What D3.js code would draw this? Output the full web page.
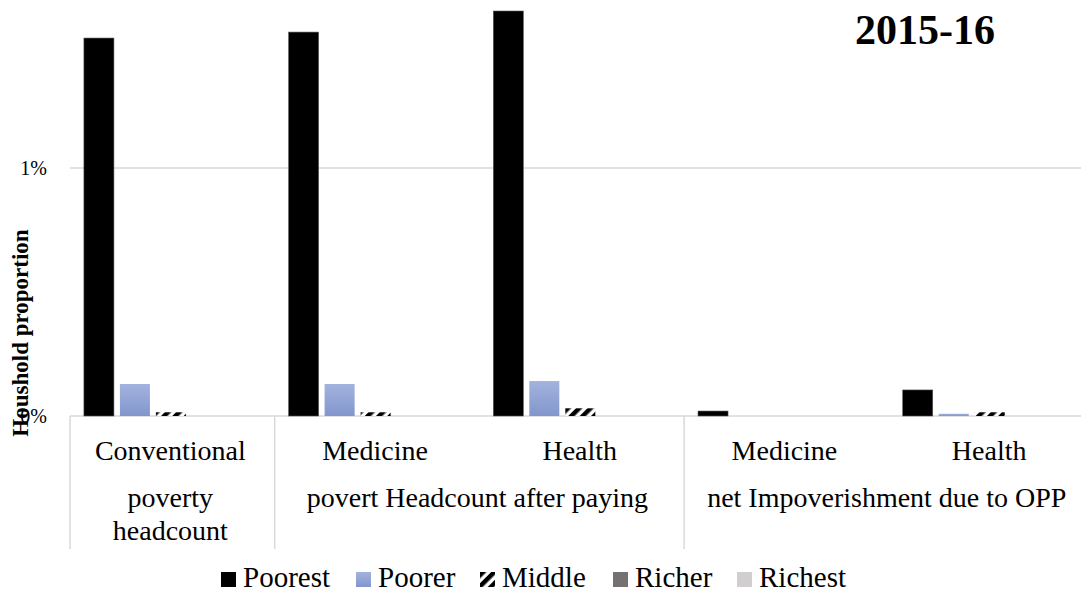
<!DOCTYPE html>
<html>
<head>
<meta charset="utf-8">
<script src="https://cdn.jsdelivr.net/npm/d3@7"></script>
<style>
  html, body { margin: 0; padding: 0; background: #fff; }
  svg { display: block; }
</style>
</head>
<body>
<svg id="chart" width="1081" height="594"></svg>
<script>
// Poverty headcount and impoverishment by wealth quintile, 2015-16 (values in %)
const categories = ["Conventional", "Medicine", "Health", "Medicine2", "Health2"];
const categoryLabels = ["Conventional", "Medicine", "Health", "Medicine", "Health"];
const series = ["Poorest", "Poorer", "Middle", "Richer", "Richest"];

const poorest = [1.524, 1.548, 1.633, 0.020, 0.105];
const poorer  = [0.129, 0.129, 0.141, 0.000, 0.009];
const middle  = [0.015, 0.015, 0.031, 0.000, 0.015];
const richer  = [0, 0, 0, 0, 0];
const richest = [0, 0, 0, 0, 0];

const gridTicks = [0, 1, 2];
const tickLabels = [0, 1];

// Group captions under the category labels
const groups = [
  { from: 0, to: 0, lines: ["poverty", "headcount"] },
  { from: 1, to: 2, lines: ["povert Headcount after paying"] },
  { from: 3, to: 4, lines: ["net Impoverishment due to OPP"] }
];

const valuesBySeries = [poorest, poorer, middle, richer, richest];
const FONT = "'Liberation Serif', 'Times New Roman', serif";

const svg = d3.select("#chart").attr("font-family", FONT);
const defs = svg.append("defs");

// Light blue vertical gradient for "Poorer"
const grad = defs.append("linearGradient").attr("id", "poorerGrad")
  .attr("x1", 0).attr("y1", 0).attr("x2", 0).attr("y2", 1);
grad.append("stop").attr("offset", "0%").attr("stop-color", "#a3b3de");
grad.append("stop").attr("offset", "100%").attr("stop-color", "#8296cd");

// Wide upward diagonal stripes for "Middle"
const pat = defs.append("pattern").attr("id", "middlePat")
  .attr("patternUnits", "userSpaceOnUse").attr("width", 8).attr("height", 8)
  .attr("patternTransform", "rotate(45)");
pat.append("rect").attr("width", 8).attr("height", 8).attr("fill", "#fff");
pat.append("rect").attr("x", 0).attr("width", 4.5).attr("height", 8).attr("fill", "#000");

const fills = ["#000000", "url(#poorerGrad)", "url(#middlePat)", "#767171", "#d0cece"];

const plotLeft = 70, baseY = 416, onePct = 248;
const catStep = 204.7;

const x = d3.scaleBand().domain(categories)
  .range([plotLeft, plotLeft + catStep * categories.length]).padding(0);
const xs = d3.scaleBand().domain(series)
  .range([x.bandwidth() * 0.068, x.bandwidth() * 0.068 + 174])
  .paddingInner(1 / 6).paddingOuter(0);
const y = d3.scaleLinear().domain([0, 2]).range([baseY, baseY - 2 * onePct]);

// Gridlines
svg.append("g").selectAll("line").data(gridTicks).join("line")
  .attr("x1", plotLeft).attr("x2", 1081)
  .attr("y1", d => y(d)).attr("y2", d => y(d))
  .attr("stroke", "#d9d9d9").attr("stroke-width", 1.5);

// Y tick labels
svg.append("g").selectAll("text").data(tickLabels).join("text")
  .attr("x", 47).attr("y", d => y(d) + 7)
  .attr("text-anchor", "end").attr("font-size", 20)
  .text(d => d3.format(".0f")(d) + "%");

// Bars
const barData = [];
valuesBySeries.forEach((vals, si) => {
  vals.forEach((v, ci) => barData.push({ s: series[si], si, c: categories[ci], v }));
});
svg.append("g").selectAll("rect").data(barData.filter(d => d.v > 0)).join("rect")
  .attr("x", d => x(d.c) + xs(d.s))
  .attr("width", xs.bandwidth())
  .attr("y", d => y(d.v))
  .attr("height", d => y(0) - y(d.v))
  .attr("fill", d => fills[d.si])
  .attr("stroke", d => d.si === 0 ? "#555" : "none")
  .attr("stroke-width", d => d.si === 0 ? 0.6 : 0);

// Category axis separators
const axisBottom = 549;
const sepX = [plotLeft, x(categories[1]), x(categories[3])];
svg.append("g").selectAll("line").data(sepX).join("line")
  .attr("x1", d => d).attr("x2", d => d)
  .attr("y1", baseY).attr("y2", axisBottom)
  .attr("stroke", "#d9d9d9").attr("stroke-width", 1.5);

svg.append("g").selectAll("text").data(categories).join("text")
  .attr("x", d => x(d) + x.bandwidth() / 2 - 2)
  .attr("y", 460)
  .attr("text-anchor", "middle").attr("font-size", 28)
  .text((d, i) => categoryLabels[i]);

groups.forEach(g => {
  const cx = (x(categories[g.from]) + x(categories[g.to]) + x.bandwidth()) / 2 - 2;
  g.lines.forEach((line, li) => {
    svg.append("text").attr("x", cx).attr("y", 507 + li * 33)
      .attr("text-anchor", "middle").attr("font-size", 28).text(line);
  });
});

// Y axis title
svg.append("text")
  .attr("transform", "translate(28,333) rotate(-90)")
  .attr("text-anchor", "middle").attr("font-size", 23).attr("font-weight", "bold")
  .text("Houshold proportion");

// Chart title
svg.append("text").attr("x", 925).attr("y", 44)
  .attr("text-anchor", "middle").attr("font-size", 42).attr("font-weight", "bold")
  .text("2015-16");

// Legend
const legendX = [221, 356, 480, 613, 737];
const legend = svg.append("g").selectAll("g").data(series).join("g")
  .attr("transform", (d, i) => `translate(${legendX[i]},572)`);
legend.append("rect").attr("width", 15).attr("height", 15)
  .attr("fill", (d, i) => fills[i]);
legend.append("text").attr("x", 22).attr("y", 15)
  .attr("font-size", 29).text(d => d);
</script>
</body>
</html>
